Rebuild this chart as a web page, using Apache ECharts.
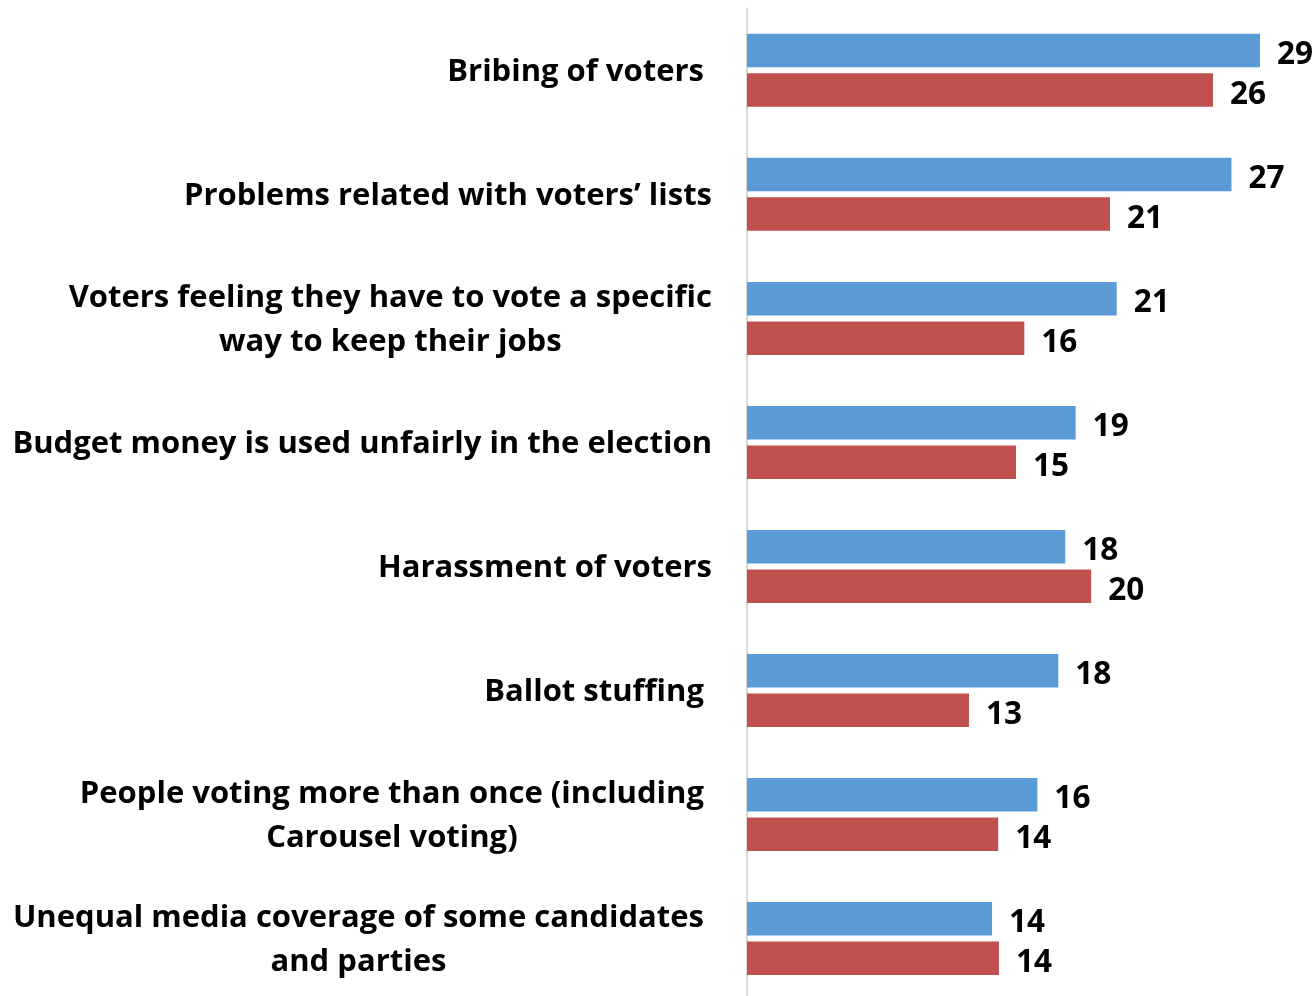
<!DOCTYPE html>
<html>
<head>
<meta charset="utf-8">
<script src="https://cdn.jsdelivr.net/npm/echarts@6/dist/echarts.min.js"></script>
<style>
html,body{margin:0;padding:0;background:#fff;overflow:hidden;}
#chart{width:1316px;height:1010px;}
</style>
</head>
<body>
<div id="chart"></div>
<script>
const categories = [
  "Bribing of voters ",
  "Problems related with voters\u2019 lists",
  "Voters feeling they have to vote a specific\nway to keep their jobs",
  "Budget money is used unfairly in the election",
  "Harassment of voters",
  "Ballot stuffing ",
  "People voting more than once (including \nCarousel voting) ",
  "Unequal media coverage of some candidates \nand parties "
];
const seriesBlue = [29.1, 27.48, 20.97, 18.64, 18.05, 17.66, 16.47, 13.9];
const seriesRed = [26.43, 20.59, 15.73, 15.26, 19.52, 12.59, 14.25, 14.29];

const FONT = "'Open Sans', sans-serif";
const chart = echarts.init(document.getElementById('chart'), null, {renderer: 'canvas'});

const valueLabel = {
  show: true,
  position: 'right',
  distance: 17,
  color: '#000',
  fontFamily: FONT,
  fontWeight: 'bold',
  fontSize: 31.5,
  formatter: p => Math.round(p.value).toString()
};

chart.setOption({
  animation: false,
  backgroundColor: '#fff',
  grid: {left: 747, top: 8.3, width: 528.9, height: 992.3, containLabel: false},
  xAxis: {
    type: 'value', min: 0, max: 30, show: false,
    splitLine: {show: false}
  },
  yAxis: {
    type: 'category',
    data: categories,
    inverse: true,
    axisLine: {show: true, lineStyle: {color: '#D9D9D9', width: 2}},
    axisTick: {show: false},
    axisLabel: {
      margin: 35,
      align: 'right',
      padding: [4, 0, 0, 0],
      formatter: v => v.split('\n').map(l => '{c|' + l + '}').join('\n'),
      rich: {
        c: {
          align: 'center',
          fontFamily: FONT,
          fontWeight: 'bold',
          fontSize: 31,
          lineHeight: 44,
          color: '#000'
        }
      }
    }
  },
  series: [
    {
      type: 'bar', name: 'A', data: seriesBlue,
      barWidth: 33.5, barGap: '18%',
      itemStyle: {color: '#5B9BD5'},
      label: Object.assign({}, valueLabel, {offset: [0, 4]})
    },
    {
      type: 'bar', name: 'B', data: seriesRed,
      barWidth: 33.5, barGap: '18%',
      itemStyle: {color: '#C0504D'},
      label: Object.assign({}, valueLabel, {offset: [0, 5]})
    }
  ]
});
</script>
</body>
</html>
